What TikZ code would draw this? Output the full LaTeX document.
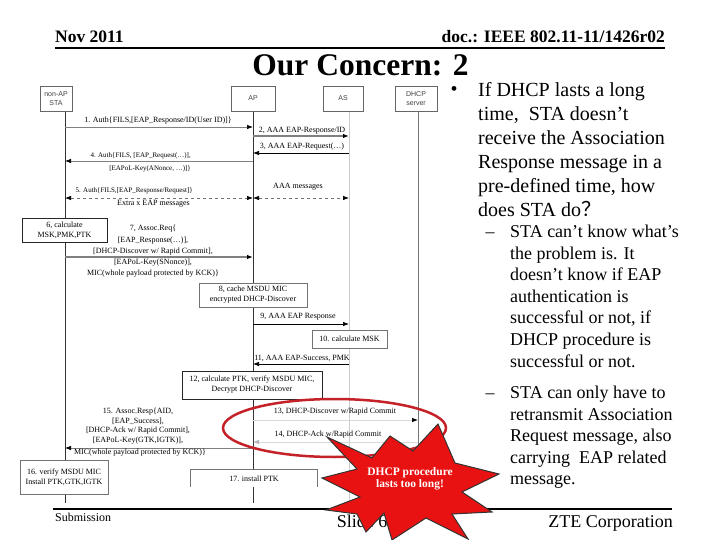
\documentclass[tikz,border=0pt]{standalone}
\usepackage{fontspec}
\setmainfont{Liberation Serif}
\newfontfamily\arialfont{Liberation Sans}
\newfontfamily\cjkfont{Noto Sans CJK SC}
\usepackage{tikz}
\usetikzlibrary{arrows.meta,positioning}
\usepackage{xcolor}
\definecolor{starred}{RGB}{232,18,18}
\definecolor{ringred}{RGB}{196,34,40}

\tikzset{
  lifeline/.style={line width=0.8pt},
  actor/.style={draw=black!60, fill=white, minimum height=25, inner sep=0pt, align=center, text=black!75, font=\arialfont\fontsize{7}{8.5}\selectfont},
  stepbox/.style={draw=black!55, fill=white, inner sep=0pt, align=center, font=\fontsize{8}{10}\selectfont},
  lbl/.style={inner sep=0pt, align=center, font=\fontsize{8}{10.5}\selectfont},
  smalllbl/.style={lbl, font=\fontsize{7}{9}\selectfont},
  msg/.style={line width=0.7pt, -{Latex[length=6pt,width=4.5pt,black]}},
  msggray/.style={msg, black!50},
  msgthick/.style={msg, line width=2pt, black!50},
  msgfaint/.style={msg, black!15},
  msgdash/.style={line width=0.7pt, black!55, dashed, {Latex[length=6pt,width=4.5pt,black]}-{Latex[length=6pt,width=4.5pt,black]}},
}

\begin{document}
\begin{tikzpicture}[x=1pt,y=-1pt]
\useasboundingbox (0,0) rectangle (720,540);

%Lifelines
\coordinate (lsta) at (65,111);
\coordinate (lap) at (253,111);
\coordinate (las) at (349,111);
\coordinate (ldh) at (418,111);
\coordinate (lsta end) at (65,503);
\coordinate (lap end) at (253,503);
\coordinate (las end) at (349,503);
\coordinate (ldh end) at (418,503);
\draw[lifeline, black!80] (lsta) -- (lsta end);
\draw[lifeline, black!80] (lap) -- (lap end);
\draw[lifeline, black!20] (las) -- (las end);
\draw[lifeline, black!55] (ldh) -- (ldh end);

%Actors
\node[actor, minimum width=32] (sta) at (56,98.5) {non-AP\\STA};
\node[actor, minimum width=44] (ap) at (253,98.5) {AP};
\node[actor, minimum width=40] (as) at (343,98.5) {AS};
\node[actor, minimum width=42] (dhcp) at (416,98.5) {DHCP\\server};

%Message 1
\draw[msggray] (lsta |- 0,127) -- (lap |- 0,127);
\node[lbl] (m1) at (158,121) {1. Auth\{FILS,[EAP\_Response/ID(User ID)]\}};

%Message 2
\draw[msgthick] (lap |- 0,136) -- (las |- 0,136);
\node[lbl] (m2) at (302,131) {2, AAA EAP-Response/ID};

%Message 3
\draw[msg] (las |- 0,153) -- (lap |- 0,153);
\node[lbl] (m3) at (302,147) {3, AAA EAP-Request(…)};

%Message 4
\draw[msggray] (lap |- 0,161) -- (lsta |- 0,161);
\node[smalllbl, anchor=east] (m4a) at (191,156) {4. Auth\{FILS, [EAP\_Request(…)],};
\node[smalllbl, anchor=east] (m4b) at (191,169) {[EAPoL-Key(ANonce, …)]\}};

%Message 5 and AAA messages
\draw[msgdash] (lsta |- 0,198) -- (lap |- 0,198);
\node[smalllbl, anchor=east] (m5a) at (193,191) {5. Auth\{FILS,[EAP\_Response/Request]\}};
\node[lbl, anchor=east] (m5b) at (190,204) {Extra x EAP messages};
\draw[msgdash] (lap |- 0,198) -- (las |- 0,198);
\node[lbl] (aaa) at (298,187) {AAA messages};

%Step 6
\node[stepbox, draw=black!85, minimum width=85, minimum height=24] (s6) at (64.5,230) {6, calculate\\MSK,PMK,PTK};

%Message 7
\draw[msgthick] (lsta |- 0,257) -- (lap |- 0,257);
\node[lbl, font=\fontsize{8}{11.5}\selectfont] (m7a) at (153,240.5) {7, Assoc.Req\{\\{}[EAP\_Response(…)],\\{}[DHCP-Discover w/ Rapid Commit],};
\node[lbl, font=\fontsize{8}{10.5}\selectfont] (m7b) at (153,268) {[EAPoL-Key(SNonce)],\\MIC(whole payload protected by KCK)\}};

%Step 8
\node[stepbox, minimum width=108, minimum height=24] (s8) at (253,295) {8, cache MSDU MIC\\encrypted DHCP-Discover};

%Message 9
\draw[msg] (lap |- 0,324) -- (las |- 0,324);
\node[lbl] (m9) at (298,317) {9, AAA EAP Response};

%Step 10
\node[stepbox, minimum width=75, minimum height=18] (s10) at (349.5,339) {10. calculate MSK};

%Message 11
\draw[msg] (las |- 0,364) -- (lap |- 0,364);
\node[lbl] (m11) at (302,358) {11, AAA EAP-Success, PMK};

%Step 12
\node[stepbox, draw=black!85, minimum width=140, minimum height=28] (s12) at (252,385) {12, calculate PTK, verify MSDU MIC,\\Decrypt DHCP-Discover};

%Message 13
\draw[msgfaint] (lap |- 0,420) -- (ldh |- 0,420);
\node[lbl] (m13) at (335,412) {13, DHCP-Discover w/Rapid Commit};

%Message 14
\draw[msgfaint, -{Latex[length=6pt,width=4.5pt,black!30]}] (ldh |- 0,442) -- (lap |- 0,442);
\node[lbl] (m14) at (328,435) {14, DHCP-Ack w/Rapid Commit};

%Message 15
\draw[msggray] (lap |- 0,448) -- (lsta |- 0,448);
\node[lbl, font=\fontsize{8}{9.5}\selectfont] (m15a) at (138,426) {15. Assoc.Resp\{AID,\\{}[EAP\_Success],\\{}[DHCP-Ack w/ Rapid Commit],\\{}[EAPoL-Key(GTK,IGTK)],};
\node[lbl] (m15b) at (140,453) {MIC(whole payload protected by KCK)\}};

%Step 16
\node[stepbox, minimum width=88, minimum height=34] (s16) at (64,477) {16. verify MSDU MIC\\Install PTK,GTK,IGTK};

%Step 17
\node[stepbox, draw=none, minimum width=126, minimum height=17] (s17) at (254,478.5) {17. install PTK};
\draw[black!55, line width=0.7pt] (s17.south west) -- (s17.north west) -- (s17.north east) -- (s17.south east);

%Concern ring
\draw[ringred, line width=2.5pt] (334.5,428) ellipse [x radius=111.5, y radius=29];

%Header
\node[anchor=base west, inner sep=0, font=\bfseries\fontsize{17.5}{19}\selectfont] (date) at (55,43) {Nov 2011};
\node[anchor=base east, inner sep=0, font=\bfseries\fontsize{17.5}{19}\selectfont] (docno) at (665,43) {doc.: IEEE 802.11-11/1426r02};
\draw[line width=2pt] (55,48) -- (665,48);
\node[anchor=base, inner sep=0, font=\bfseries\fontsize{31.5}{34}\selectfont] (title) at (360.5,76) {Our Concern: 2};

%Bullet text
\node[anchor=base, inner sep=0, text height=7pt, text depth=0pt, font=\fontsize{20}{24}\selectfont] (dot) at (454,96) {•};
\node[anchor=base west, inner sep=0, font=\fontsize{20}{24}\selectfont] (ask) at (478,96.5) {\parbox[t]{240pt}{\raggedright If DHCP lasts a long\\ time,~ STA doesn’t\\ receive the Association\\ Response message in a\\ pre-defined time, how\\ does STA do{\cjkfont ？}}};

%Sub bullets
\node[anchor=base, inner sep=0, font=\fontsize{18}{21.6}\selectfont] (dash1) at (490,237.5) {–};
\node[anchor=base west, inner sep=0, font=\fontsize{18}{21.6}\selectfont] (why1) at (510,237.5) {\parbox[t]{200pt}{\raggedright STA can’t know what’s\\ the problem is. It\\ doesn’t know if EAP\\ authentication is\\ successful or not, if\\ DHCP procedure is\\ successful or not.}};
\node[anchor=base, inner sep=0, font=\fontsize{18}{21.6}\selectfont] (dash2) at (490,398.5) {–};
\node[anchor=base west, inner sep=0, font=\fontsize{18}{21.6}\selectfont] (why2) at (510,398.5) {\parbox[t]{200pt}{\raggedright STA can only have to\\ retransmit Association\\ Request message, also\\ carrying~ EAP related\\ message.}};

%Footer
\draw[line width=2pt] (53,509) -- (672,509);
\node[anchor=base west, inner sep=0, font=\fontsize{12}{14}\selectfont] (sub) at (55,521) {Submission};
\node[anchor=base, inner sep=0, font=\fontsize{18}{20}\selectfont] (slide) at (362,527) {Slide 6};
\node[anchor=base east, inner sep=0, font=\fontsize{18}{20}\selectfont] (corp) at (673,527) {ZTE Corporation};

%Warning star
\filldraw[fill=starred, draw=black!80, line width=1pt, line join=miter] (327,437) -- (372,458) -- (390,436) -- (413,451) -- (438,424) -- (455,463) -- (499,474) -- (462,492) -- (492,512) -- (452,514) -- (468,539) -- (426,518) -- (392,540) -- (384,513) -- (366,532) -- (357,514) -- (326,510) -- (360,497) -- (322,478) -- (357,469) -- cycle;
\node[inner sep=0, align=center, text=white, font=\bfseries\fontsize{11.5}{12.5}\selectfont] (alarm) at (410,479) {DHCP procedure\\lasts too long!};
\end{tikzpicture}
\end{document}
